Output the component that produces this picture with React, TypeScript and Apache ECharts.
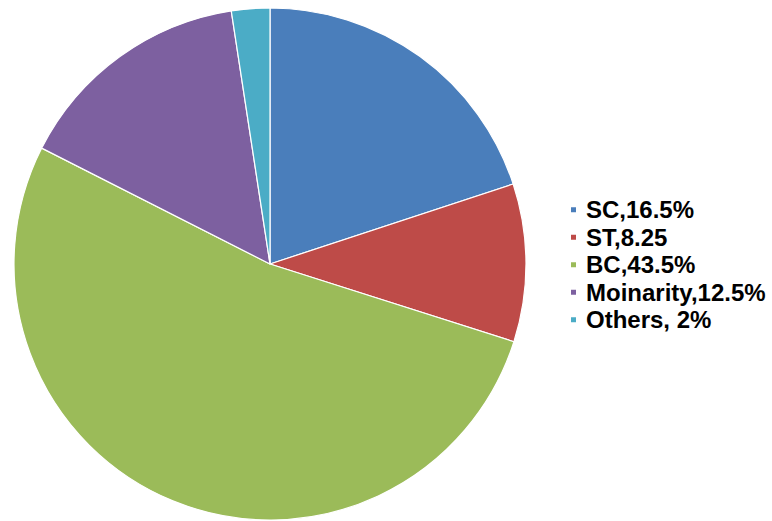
import React, { useEffect, useRef } from "react";
import * as echarts from "echarts";

const categories = ["SC,16.5%", "ST,8.25", "BC,43.5%", "Moinarity,12.5%", "Others, 2%"];
const values = [16.5, 8.25, 43.5, 12.5, 2];
const colors = ["#4A7EBB", "#BE4B48", "#9BBB59", "#7D60A0", "#4BACC6"];

export default function App() {
  const ref = useRef<HTMLDivElement>(null);
  useEffect(() => {
    if (!ref.current) return;
    const chart = echarts.init(ref.current, undefined, { renderer: "svg" });
    chart.setOption({
      animation: false,
      backgroundColor: "#ffffff",
      color: colors,
      legend: {
        orient: "vertical",
        left: 569,
        top: 196,
        padding: 0,
        itemWidth: 7,
        itemHeight: 7,
        itemGap: 0,
        icon: "rect",
        data: categories,
        textStyle: {
          fontFamily: "Liberation Sans, Arial, sans-serif",
          fontWeight: "bold",
          fontSize: 24,
          lineHeight: 27.5,
          color: "#000000",
          padding: [0, 0, 0, 4],
        },
      },
      series: [
        {
          type: "pie",
          center: [270, 264],
          radius: 256,
          startAngle: 90,
          clockwise: true,
          label: { show: false },
          labelLine: { show: false },
          emphasis: { disabled: true },
          itemStyle: { borderColor: "#ffffff", borderWidth: 1.2 },
          data: categories.map((name, i) => ({ name, value: values[i] })),
        },
      ],
    });
    return () => chart.dispose();
  }, []);
  return <div ref={ref} style={{ width: 772, height: 521, position: "fixed", left: 0, top: 0 }} />;
}
